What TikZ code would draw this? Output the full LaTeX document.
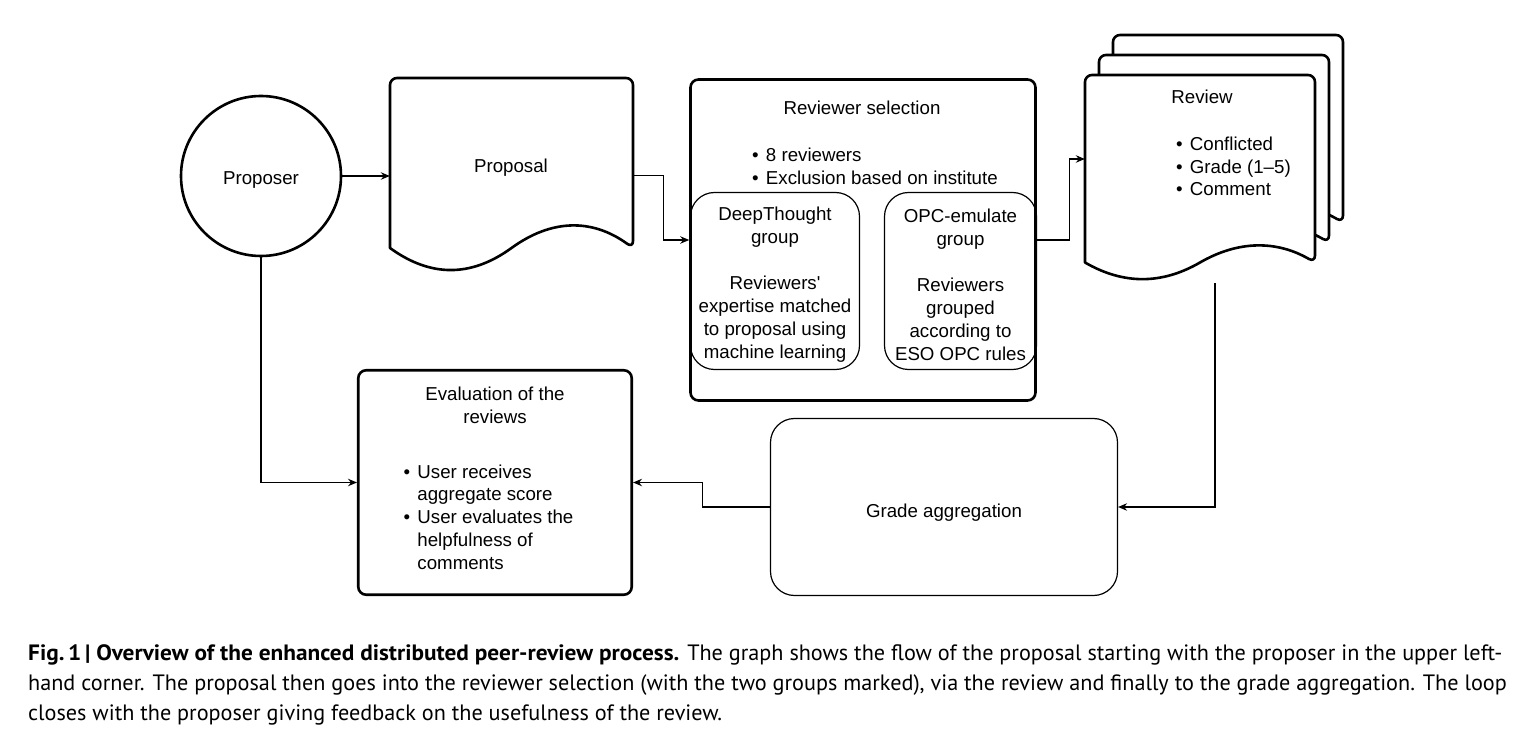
\documentclass[tikz,border=0pt]{standalone}
\usepackage{fontspec}
\setmainfont{Liberation Sans}
\newfontfamily\captionfont{PT Sans}[BoldFeatures={FakeStretch=1.05}]
\usetikzlibrary{arrows.meta}

% page with wavy lower edge: left, top, width, height, wave depth
\newcommand{\docpage}[5]{%
  \draw[page] (#1,{#2+#4-#5/2}) [rounded corners=7pt] -- (#1,#2) -- ({#1+#3},#2)
    -- ({#1+#3},{#2+#4-#5/2}) [sharp corners]
    .. controls ({#1+5*#3/6},{#2+#4-1.1*#5}) and ({#1+2*#3/3},{#2+#4-1.1*#5}) .. ({#1+#3/2},{#2+#4-#5/2})
    .. controls ({#1+#3/3},{#2+#4+0.1*#5}) and ({#1+#3/6},{#2+#4+0.1*#5}) .. (#1,{#2+#4-#5/2}) -- cycle;}
% list bullet
\newcommand{\itm}{\textbullet\ \hspace{2pt}}

\begin{document}
\begin{tikzpicture}[
    x=1pt, y=-1pt,
    font=\fontsize{18.7}{22.7}\selectfont,
    % Common Styles
    outline/.style={
        draw=black,
        line width=2.6pt
    },
    stepbox/.style={
        outline,
        rounded corners=8pt,
        inner sep=0pt
    },
    groupbox/.style={
        draw=black,
        line width=1.2pt,
        rounded corners=24pt,
        inner sep=0pt
    },
    group_text/.style={
        font=\fontsize{18.7}{23}\selectfont,
        align=center,
        inner sep=0pt
    },
    page/.style={
        outline,
        fill=white,
        line join=round
    },
    flow/.style={
        -{Stealth[length=9pt, width=7.5pt, inset=3pt]},
        line width=1.1pt
    },
    list_text/.style={
        anchor=west,
        align=left,
        inner sep=0pt
    },
    cap_text/.style={
        font=\captionfont\fontsize{22.2}{30}\selectfont,
        anchor=west,
        align=left,
        inner sep=0pt
    }
]

    \path[fill=white, use as bounding box] (0,0) rectangle (1540,751);

    % ================= UPPER ROW =================
    \node[circle, outline, minimum size=160pt, inner sep=0pt] (proposer) at (261,176) {};
    \node (proposer_label) at (261,180) {Proposer};

    % Proposal sheet
    \node[minimum width=243pt, minimum height=194.5pt] (proposal) at (511.5,175.25) {};
    \docpage{390}{78}{243}{194.5}{49}
    \node (proposal_label) at (511,168) {Proposal};

    % Reviewer selection with its two groups
    \node[stepbox, minimum width=345pt, minimum height=321pt] (revsel) at (863,240) {};
    \node (revsel_title) at (862,107.5) {Reviewer selection};
    \node[list_text] (revsel_list) at (752,166)
        {\itm 8 reviewers\\\itm Exclusion based on institute};

    \node[groupbox, minimum width=169pt, minimum height=177pt] (deepthought) at (775,281) {};
    \node[group_text] (deepthought_text) at (775,284.5)
        {DeepThought\\group\\[23pt]Reviewers\textquotesingle\\expertise matched\\to proposal using\\machine learning};
    \node[groupbox, minimum width=152pt, minimum height=177pt] (opc) at (960.5,281) {};
    \node[group_text] (opc_text) at (960.5,284.5)
        {OPC-emulate\\group\\[23pt]Reviewers\\grouped\\according to\\ESO OPC rules};

    % Stack of review sheets (back to front)
    \foreach \dx/\dy in {28/40, 14/20, 0/0} {
        \docpage{1085+\dx}{75-\dy}{230}{206}{37}
    }
    \node[minimum width=260pt, minimum height=248pt] (review) at (1215,159) {};
    \node (review_title) at (1202,97) {Review};
    \node[list_text] (review_list) at (1176,166.5)
        {\itm Conflicted\\\itm Grade (1--5)\\\itm Comment};

    % ================= LOWER ROW =================
    \node[groupbox, minimum width=347pt, minimum height=177pt] (grade) at (944,507) {};
    \node (grade_label) at (944,513) {Grade aggregation};

    \node[stepbox, minimum width=273.5pt, minimum height=224.5pt] (eval) at (495,482.5) {};
    \node[align=center] (eval_title) at (495,405) {Evaluation of the\\reviews};
    \node[list_text] (eval_list) at (403.5,517)
        {\itm User receives\\\hphantom{\itm}aggregate score\\\itm User evaluates the\\\hphantom{\itm}helpfulness of\\\hphantom{\itm}comments};

    % Connectors
    \draw[flow] (proposer.east) -- (proposer.east -| proposal.west);
    \draw[flow] (proposal.east) -- ++(30,0) |- (revsel.west);
    \draw[flow] (revsel.east) -- ++(33,0) |- (review.west);
    \draw[flow] (review.south) |- (grade.east);
    \draw[flow] (grade.west) -- ++(-67,0) |- (eval.east);
    \draw[flow] (proposer.south) |- (eval.west);

    % Caption
    \node[cap_text] (caption) at (28,684.5)
        {\textbf{Fig.\,1\,|\ Overview of the enhanced distributed peer-review process.} The graph shows the flow of the proposal starting with the proposer in the upper left-\\
        hand corner. The proposal then goes into the reviewer selection (with the two groups marked), via the review and finally to the grade aggregation. The loop\\
        closes with the proposer giving feedback on the usefulness of the review.};

\end{tikzpicture}
\end{document}
